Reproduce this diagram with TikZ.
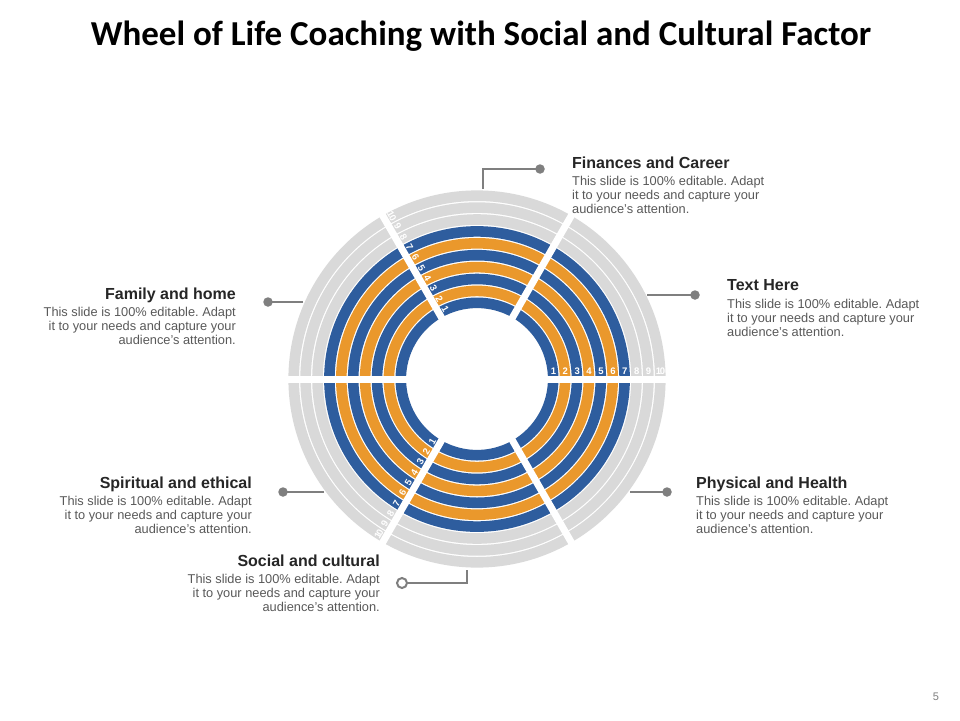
\documentclass[tikz,border=0pt]{standalone}
\usepackage{fontspec}
\setmainfont{Liberation Sans}
\newfontfamily\titlefont{Carlito}
\usetikzlibrary{calc}
\definecolor{wblue}{HTML}{2E5D9E}
\definecolor{worange}{HTML}{EA982C}
\definecolor{wgray}{HTML}{D9D9D9}
\definecolor{lgray}{HTML}{7F7F7F}
\definecolor{headc}{HTML}{262626}
\definecolor{bodyc}{HTML}{595959}
\frenchspacing
\begin{document}
\begin{tikzpicture}[x=1pt,y=-1pt,
  head/.style={inner sep=0pt,font=\fontsize{16}{18}\selectfont\bfseries,text=headc},
  bodytxt/.style={inner sep=0pt,font=\fontsize{12.8}{14}\selectfont,text=bodyc},
  conn/.style={draw=lgray,line width=2.7pt},
  fdot/.style={circle,fill=lgray,inner sep=0pt,minimum size=9.5pt},
  odot/.style={circle,draw=lgray,line width=2pt,fill=white,inner sep=0pt,minimum size=10pt},
  digit/.style={text=white,inner sep=0pt,font=\fontsize{9.5}{10}\selectfont\bfseries}]
\useasboundingbox[fill=white] (0,0) rectangle (960,720);
% title
\node[inner sep=0pt,font=\titlefont\fontsize{35}{40}\selectfont\bfseries] (title) at (481,36) {Wheel of Life Coaching with Social and Cultural Factor};
% wheel
\coordinate (c) at (477,379);
\foreach \i/\col in {1/wblue,2/worange,3/wblue,4/worange,5/wblue,6/worange,7/wblue,8/wgray,9/wgray,10/wgray}{
  \pgfmathsetmacro{\rr}{71+11.9*(\i-1)+5.2}
  \draw[\col,line width=10.6pt] (c) circle[radius=\rr pt];
}
\foreach \a in {0,60,120,180,240,300}{
  \draw[white,line width=7pt] (c) -- ++(\a:200pt);
}
% digits
\foreach \i/\t in {1/1,2/2,3/3,4/4,5/5,6/6,7/7,8/8,9/9,10/1\kern-1.2pt 0}{
  \pgfmathsetmacro{\rr}{71+11.9*(\i-1)+5.4}
  \path (c) ++(0:\rr pt) ++(90:7.5pt) node[digit] (dA\i) {\t};
  \path (c) ++(120:\rr pt) ++(30:7.5pt) node[digit,rotate=-60] (dB\i) {\t};
  \path (c) ++(240:\rr pt) ++(150:7.5pt) node[digit,rotate=60] (dC\i) {\t};
}
% Finances and Career
\node[head,anchor=base west] (finH) at (572,168) {Finances and Career};
\node[bodytxt,anchor=north west,align=left] (finB) at (572,176) {This slide is 100\% editable. Adapt\\it to your needs and capture your\\audience's attention.};
\coordinate (finA) at (483,189);
\coordinate (finE) at (540,169);
\draw[conn] (finA) |- (finE);
\node[fdot] (finD) at (finE) {};
% Text Here
\node[head,anchor=base west] (txtH) at (727,290) {Text Here};
\node[bodytxt,anchor=north west,align=left] (txtB) at (727,299) {This slide is 100\% editable. Adapt\\it to your needs and capture your\\audience's attention.};
\coordinate (txtA) at (647,295);
\coordinate (txtE) at (695,295);
\draw[conn] (txtA) -- (txtE);
\node[fdot] (txtD) at (txtE) {};
% Family and home
\node[head,anchor=base east] (famH) at (236,299) {Family and home};
\node[bodytxt,anchor=north east,align=right] (famB) at (236,307) {This slide is 100\% editable. Adapt\\it to your needs and capture your\\audience's attention.};
\coordinate (famA) at (303,302);
\coordinate (famE) at (268,302);
\draw[conn] (famA) -- (famE);
\node[fdot] (famD) at (famE) {};
% Spiritual and ethical
\node[head,anchor=base east] (spiH) at (252,488) {Spiritual and ethical};
\node[bodytxt,anchor=north east,align=right] (spiB) at (252,496) {This slide is 100\% editable. Adapt\\it to your needs and capture your\\audience's attention.};
\coordinate (spiA) at (324,492);
\coordinate (spiE) at (283,492);
\draw[conn] (spiA) -- (spiE);
\node[fdot] (spiD) at (spiE) {};
% Physical and Health
\node[head,anchor=base west] (phyH) at (696,488) {Physical and Health};
\node[bodytxt,anchor=north west,align=left] (phyB) at (696,496) {This slide is 100\% editable. Adapt\\it to your needs and capture your\\audience's attention.};
\coordinate (phyA) at (630,492);
\coordinate (phyE) at (667,492);
\draw[conn] (phyA) -- (phyE);
\node[fdot] (phyD) at (phyE) {};
% Social and cultural
\node[head,anchor=base east] (socH) at (380,566) {Social and cultural};
\node[bodytxt,anchor=north east,align=right] (socB) at (380,574) {This slide is 100\% editable. Adapt\\it to your needs and capture your\\audience's attention.};
\coordinate (socA) at (467,570);
\coordinate (socE) at (402,583);
\draw[conn] (socA) |- (socE);
\node[odot] (socD) at (socE) {};
% page number
\node[inner sep=0pt,font=\fontsize{11}{12}\selectfont,text=lgray] (pnum) at (936,697) {5};
\end{tikzpicture}
\end{document}
